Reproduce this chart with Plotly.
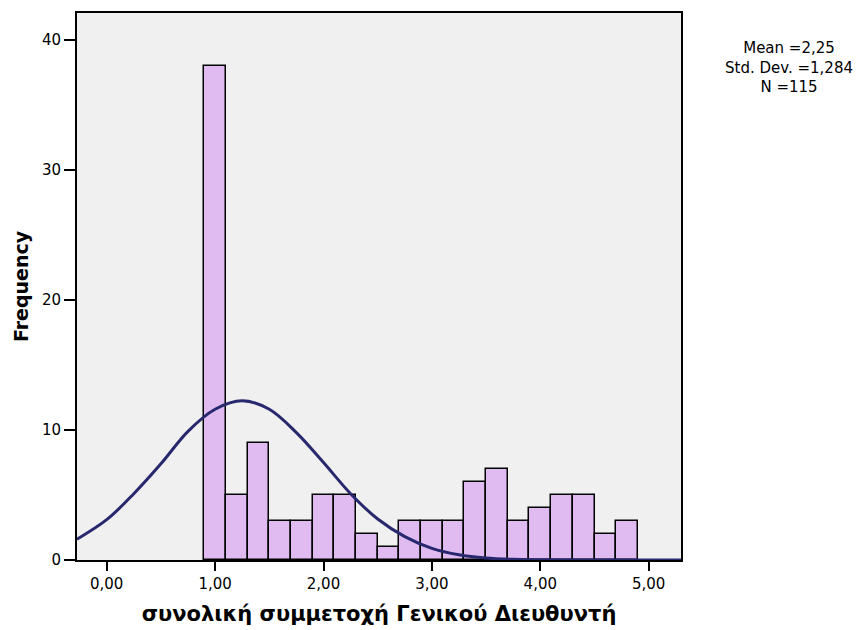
import plotly.graph_objects as go

# Histogram bins (centres) and frequencies
bin_centers = [1.0, 1.2, 1.4, 1.6, 1.8, 2.0, 2.2, 2.4, 2.6, 2.8,
               3.0, 3.2, 3.4, 3.6, 3.8, 4.0, 4.2, 4.4, 4.6, 4.8]
frequencies = [38, 5, 9, 3, 3, 5, 5, 2, 1, 3,
               3, 3, 6, 7, 3, 4, 5, 5, 2, 3]
bin_width = 0.2

# Normal curve points
curve_x = [-0.274, 0.0, 0.25, 0.5, 0.75, 1.0, 1.25, 1.5, 1.75, 2.0, 2.25,
           2.5, 2.75, 3.0, 3.25, 3.5, 3.75, 4.0, 4.5, 5.0, 5.298]
curve_y = [1.6, 3.1, 5.1, 7.4, 9.9, 11.6, 12.25, 11.6, 9.8, 7.5, 5.1,
           3.15, 1.8, 0.9, 0.4, 0.15, 0.05, 0.02, 0.0, 0.0, 0.0]

x_tickvals = [0, 1, 2, 3, 4, 5]
x_ticktext = ["0,00", "1,00", "2,00", "3,00", "4,00", "5,00"]
y_tickvals = [0, 10, 20, 30, 40]

stats_lines = ["Mean =2,25", "Std. Dev. =1,284", "N =115"]

fig = go.Figure()
fig.add_trace(go.Bar(
    x=bin_centers, y=frequencies, width=[bin_width] * len(bin_centers),
    marker=dict(color="#DFBBF2", line=dict(color="black", width=1.5)),
    showlegend=False, hoverinfo="x+y",
))
fig.add_trace(go.Scatter(
    x=curve_x, y=curve_y, mode="lines", line_shape="spline",
    line=dict(color="#28286E", width=3), showlegend=False,
))

font_family = "DejaVu Sans, Arial, sans-serif"

fig.update_layout(
    width=861, height=630,
    margin=dict(l=77, r=180, t=13, b=70),
    paper_bgcolor="white", plot_bgcolor="#F0F0F0",
    font=dict(family=font_family, color="black", size=15),
    bargap=0,
    xaxis=dict(
        range=[-0.274, 5.298], tickvals=x_tickvals, ticktext=x_ticktext,
        ticks="outside", ticklen=9, tickwidth=2, tickcolor="black",
        showgrid=False, zeroline=False, automargin=False,
        showline=True, linecolor="black", linewidth=2, mirror=True,
        tickfont=dict(size=15),
        title=dict(text="<b>συνολική συμμετοχή Γενικού Διευθυντή</b>",
                   font=dict(size=21), standoff=14),
    ),
    yaxis=dict(
        range=[0, 42.08], tickvals=y_tickvals,
        ticks="outside", ticklen=11, tickwidth=2, tickcolor="black",
        showgrid=False, zeroline=False, automargin=False,
        showline=True, linecolor="black", linewidth=2, mirror=True,
        tickfont=dict(size=15),
        title=dict(text="<b>Frequency</b>", font=dict(size=19), standoff=8),
    ),
)

fig.add_annotation(
    text="<br>".join(stats_lines), xref="paper", yref="paper",
    x=(789 - 77) / (681 - 77), y=(560 - 67.5) / (560 - 13),
    xanchor="center", yanchor="middle", align="center", showarrow=False,
    font=dict(size=15, family=font_family),
)

fig.write_html("out.html")
